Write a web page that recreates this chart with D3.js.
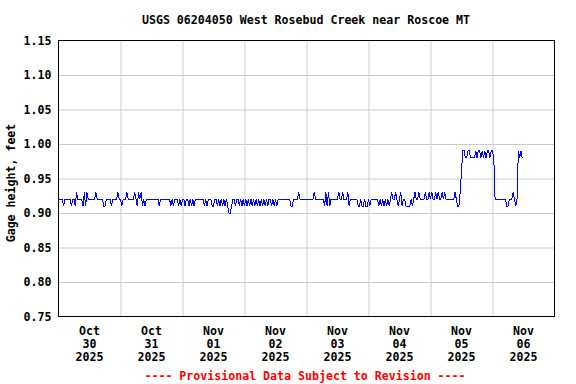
<!DOCTYPE html>
<html lang="en">
<head>
<meta charset="utf-8">
<title>USGS 06204050</title>
<script src="https://d3js.org/d3.v7.min.js"></script>
<style>
  body { margin: 0; background: #fff; }
  text { font-family: "DejaVu Sans Mono", monospace; font-weight: bold; font-size: 11.6px; }
</style>
</head>
<body>
<svg id="chart" width="576" height="384"></svg>
<script>
// gage height, feet, read every 30 minutes starting at midnight of each day
var oct30 = [.92,.92,.92,.92,.91,.92,.92,.92,.92,.92,.91,.92,
             .92,.91,.93,.92,.92,.92,.92,.91,.93,.91,.93,.92,
             .92,.92,.92,.92,.92,.93,.92,.92,.92,.92,.92,.91,
             .91,.92,.92,.92,.92,.91,.92,.92,.92,.92,.93,.92];
var oct31 = [.92,.91,.92,.92,.92,.93,.92,.92,.92,.92,.92,.93,
             .92,.91,.93,.92,.93,.91,.92,.91,.92,.92,.92,.92,
             .92,.92,.92,.92,.92,.92,.91,.92,.92,.92,.92,.92,
             .92,.92,.92,.91,.92,.91,.92,.92,.92,.91,.92,.91];
var nov01 = [.92,.92,.91,.92,.92,.91,.92,.91,.92,.91,.92,.92,
             .92,.92,.92,.92,.92,.91,.92,.91,.92,.92,.92,.91,
             .91,.92,.92,.91,.92,.91,.92,.91,.92,.91,.92,.91,
             .90,.90,.91,.92,.92,.91,.92,.92,.91,.92,.91,.92];
var nov02 = [.91,.92,.91,.92,.91,.92,.91,.92,.91,.92,.91,.92,
             .91,.92,.91,.92,.91,.92,.91,.92,.92,.91,.92,.91,
             .92,.91,.92,.92,.92,.92,.92,.92,.92,.92,.92,.92,
             .91,.91,.92,.92,.92,.92,.93,.92,.92,.92,.92,.92];
var nov03 = [.92,.92,.92,.92,.92,.92,.93,.92,.92,.92,.92,.92,
             .92,.92,.91,.93,.91,.93,.91,.92,.92,.92,.92,.92,
             .92,.93,.92,.92,.93,.92,.92,.92,.93,.91,.92,.92,
             .92,.92,.92,.92,.91,.91,.92,.91,.91,.92,.91,.91];
var nov04 = [.92,.91,.92,.92,.92,.92,.92,.92,.91,.92,.91,.92,
             .91,.92,.91,.92,.91,.92,.93,.92,.92,.93,.92,.91,
             .92,.93,.91,.92,.92,.91,.91,.91,.91,.92,.91,.92,
             .93,.92,.92,.93,.92,.92,.92,.92,.93,.92,.92,.93];
var nov05 = [.92,.93,.92,.92,.93,.92,.93,.92,.92,.93,.92,.93,
             .92,.92,.92,.92,.92,.92,.92,.93,.92,.91,.91,.93,
             .96,.99,.99,.98,.98,.99,.99,.98,.98,.98,.98,.99,
             .98,.99,.99,.98,.99,.98,.99,.98,.99,.99,.98,.99];
var nov06 = [.99,.98,.92,.92,.92,.92,.92,.92,.92,.92,.92,.91,
             .91,.92,.92,.92,.93,.92,.91,.92,.99,.98,.99,.98];

var dailyReadings = [oct30, oct31, nov01, nov02, nov03, nov04, nov05, nov06];

// x tick labels, one per day
var tickMonths = ["Oct", "Oct", "Nov", "Nov", "Nov", "Nov", "Nov", "Nov"];
var tickDays   = ["30", "31", "01", "02", "03", "04", "05", "06"];
var tickYears  = ["2025", "2025", "2025", "2025", "2025", "2025", "2025", "2025"];
var yTicks = [0.75, 0.80, 0.85, 0.90, 0.95, 1.00, 1.05, 1.10, 1.15];

var DAY = 86400000, STEP = 1800000;
var start = Date.UTC(2025, 9, 30);

var points = [];
dailyReadings.forEach(function(day, d) {
    day.forEach(function(v, j) {
        points.push({t: new Date(start + d * DAY + j * STEP), v: v});
    });
});

var plotL = 58.5, plotR = 554.5, plotT = 40.5, plotB = 316.5;
var svg = d3.select("#chart");

var x = d3.scaleUtc()
    .domain([new Date(start), new Date(start + 8 * DAY)])
    .range([plotL, plotR]);
var y = d3.scaleLinear()
    .domain([0.75, 1.15])
    .range([plotB, plotT]);

// grid lines
var midnights = d3.range(1, 8).map(function(d) { return new Date(start + d * DAY); });
svg.append("g")
    .attr("transform", "translate(0," + plotB + ")")
    .call(d3.axisBottom(x).tickValues(midnights).tickSize(-(plotB - plotT)).tickFormat(""))
    .call(function(g) { g.select(".domain").remove(); })
    .selectAll("line").attr("stroke", "#cccccc");
svg.append("g")
    .attr("transform", "translate(" + plotL + ",0)")
    .call(d3.axisLeft(y).tickValues(yTicks.slice(1, -1)).tickSize(-(plotR - plotL)).tickFormat(""))
    .call(function(g) { g.select(".domain").remove(); })
    .selectAll("line").attr("stroke", "#cccccc");

// data line
var line = d3.line()
    .x(function(d) { return x(d.t); })
    .y(function(d) { return y(d.v); });
svg.append("path")
    .datum(points)
    .attr("d", line)
    .attr("fill", "none")
    .attr("stroke", "#0000ff")
    .attr("stroke-width", 1)
    .attr("shape-rendering", "crispEdges");

// frame
svg.append("rect")
    .attr("x", plotL).attr("y", plotT)
    .attr("width", plotR - plotL).attr("height", plotB - plotT)
    .attr("fill", "none").attr("stroke", "#000")
    .attr("shape-rendering", "crispEdges");

// y labels
var yAxis = svg.append("g")
    .attr("transform", "translate(" + plotL + ",0)")
    .call(d3.axisLeft(y).tickValues(yTicks).tickFormat(d3.format(".2f")).tickSize(0).tickPadding(7));
yAxis.select(".domain").remove();
yAxis.attr("font-family", null).attr("font-size", null);
yAxis.selectAll("text").attr("fill", "#000");

// x labels, three lines each, centred on noon
var noons = tickDays.map(function(_, i) { return new Date(start + i * DAY + DAY / 2); });
var xl = svg.append("g").selectAll("text")
    .data(noons)
    .enter().append("text")
    .attr("text-anchor", "middle")
    .attr("fill", "#000");
xl.append("tspan").attr("x", function(d) { return x(d); }).attr("y", 335)
    .text(function(d, i) { return tickMonths[i]; });
xl.append("tspan").attr("x", function(d) { return x(d); }).attr("y", 348)
    .text(function(d, i) { return tickDays[i]; });
xl.append("tspan").attr("x", function(d) { return x(d); }).attr("y", 361)
    .text(function(d, i) { return tickYears[i]; });

// titles
svg.append("text")
    .attr("x", 306).attr("y", 24)
    .attr("text-anchor", "middle")
    .text("USGS 06204050 West Rosebud Creek near Roscoe MT");
svg.append("text")
    .attr("transform", "translate(15," + 183 + ") rotate(-90)")
    .attr("text-anchor", "middle")
    .text("Gage height, feet");
svg.append("text")
    .attr("x", 305).attr("y", 380)
    .attr("text-anchor", "middle")
    .attr("fill", "#ff0000")
    .text("---- Provisional Data Subject to Revision ----");
</script>
</body>
</html>
